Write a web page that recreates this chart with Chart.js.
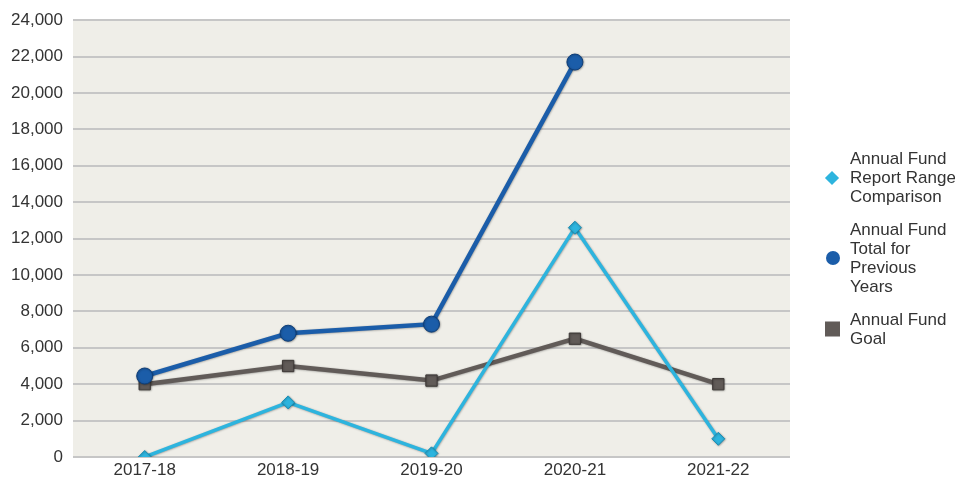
<!DOCTYPE html>
<html>
<head>
<meta charset="utf-8">
<script src="https://cdn.jsdelivr.net/npm/chart.js@4.4.1/dist/chart.umd.min.js"></script>
<style>
  html, body { margin: 0; padding: 0; background: #ffffff; }
  #wrap { position: relative; width: 955px; height: 484px; }
  #legend { position: absolute; left: 824px; top: 149px; font-family: "Liberation Sans", Arial, sans-serif; font-size: 17px; line-height: 19px; color: #333333; white-space: nowrap; }
  .item { position: relative; padding-left: 26px; }
  .mk { position: absolute; left: 2px; top: 50%; }
</style>
</head>
<body>
<div id="wrap">
  <canvas id="c" width="955" height="484"></canvas>
  <div id="legend"></div>
</div>
<script>
const categories = ["2017-18", "2018-19", "2019-20", "2020-21", "2021-22"];
const reportRange = [0, 3000, 200, 12600, 1000];
const previousYears = [4450, 6800, 7300, 21700, null];
const goal = [4000, 5000, 4200, 6500, 4000];
const seriesNames = [
  ["Annual Fund", "Report Range", "Comparison"],
  ["Annual Fund", "Total for", "Previous", "Years"],
  ["Annual Fund", "Goal"]
];
const yTicks = { min: 0, max: 24000, step: 2000 };

const colors = ["#2db4de", "#1b5da9", "#615b58"];
const edge = ["#1d8fb5", "#0f3f7a", "#3f3a38"];
const styles = ["rectRot", "circle", "rect"];
const radii = [6.5, 8, 8];

const bgPlugin = {
  id: 'plotBg',
  beforeDraw(chart) {
    const a = chart.chartArea, ctx = chart.ctx;
    ctx.save();
    ctx.fillStyle = '#efeee8';
    ctx.fillRect(a.left, a.top, a.right - a.left, a.bottom - a.top);
    ctx.restore();
  },
  beforeDatasetDraw(chart, args) {
    const ctx = chart.ctx;
    ctx.save();
    ctx.shadowColor = 'rgba(0,0,0,0.35)';
    ctx.shadowBlur = 2;
    ctx.shadowOffsetX = 0.5;
    ctx.shadowOffsetY = 0.5;
  },
  afterDatasetDraw(chart) {
    chart.ctx.restore();
  }
};

const data = [reportRange, previousYears, goal];
const datasets = data.map((d, i) => ({
  label: seriesNames[i].join(' '),
  data: d,
  borderColor: colors[i],
  backgroundColor: colors[i],
  borderWidth: i === 0 ? 3.5 : 4.5,
  pointStyle: styles[i],
  pointRadius: radii[i],
  pointBorderColor: edge[i],
  pointBorderWidth: 1,
  pointBackgroundColor: colors[i],
  tension: 0,
  spanGaps: false
}));

new Chart(document.getElementById('c'), {
  type: 'line',
  data: { labels: categories, datasets },
  plugins: [bgPlugin],
  options: {
    responsive: false,
    animation: false,
    devicePixelRatio: 1,
    layout: { padding: { left: 0, right: 165, top: 9, bottom: 0 } },
    plugins: { legend: { display: false }, tooltip: { enabled: false } },
    scales: {
      x: {
        offset: true,
        grid: { display: false, drawTicks: false },
        border: { display: false },
        ticks: { color: '#333333', font: { family: 'Liberation Sans', size: 17, lineHeight: 1 }, padding: 5, maxRotation: 0 }
      },
      y: {
        min: yTicks.min, max: yTicks.max,
        afterFit(scale) { scale.width = 73; },
        grid: { color: '#c6c6c6', lineWidth: 2, drawTicks: false },
        border: { display: false },
        ticks: { stepSize: yTicks.step, color: '#333333', font: { family: 'Liberation Sans', size: 17 }, padding: 10 }
      }
    }
  }
});

// HTML legend
const leg = document.getElementById('legend');
const gaps = [0, 14, 14];
seriesNames.forEach((lines, i) => {
  const it = document.createElement('div');
  it.className = 'item';
  it.style.marginTop = gaps[i] + 'px';
  const mk = document.createElement('div');
  mk.className = 'mk';
  if (i === 0) {
    mk.style.cssText += 'width:10px;height:10px;background:' + colors[0] + ';transform:translateY(-50%) rotate(45deg);left:3px;';
  } else if (i === 1) {
    mk.style.cssText += 'width:14px;height:14px;border-radius:50%;background:' + colors[1] + ';transform:translateY(-50%);';
  } else {
    mk.style.cssText += 'width:15px;height:15px;background:' + colors[2] + ';transform:translateY(-50%);left:1px;';
  }
  it.appendChild(mk);
  lines.forEach(t => {
    const l = document.createElement('div');
    l.textContent = t;
    it.appendChild(l);
  });
  leg.appendChild(it);
});
</script>
</body>
</html>
